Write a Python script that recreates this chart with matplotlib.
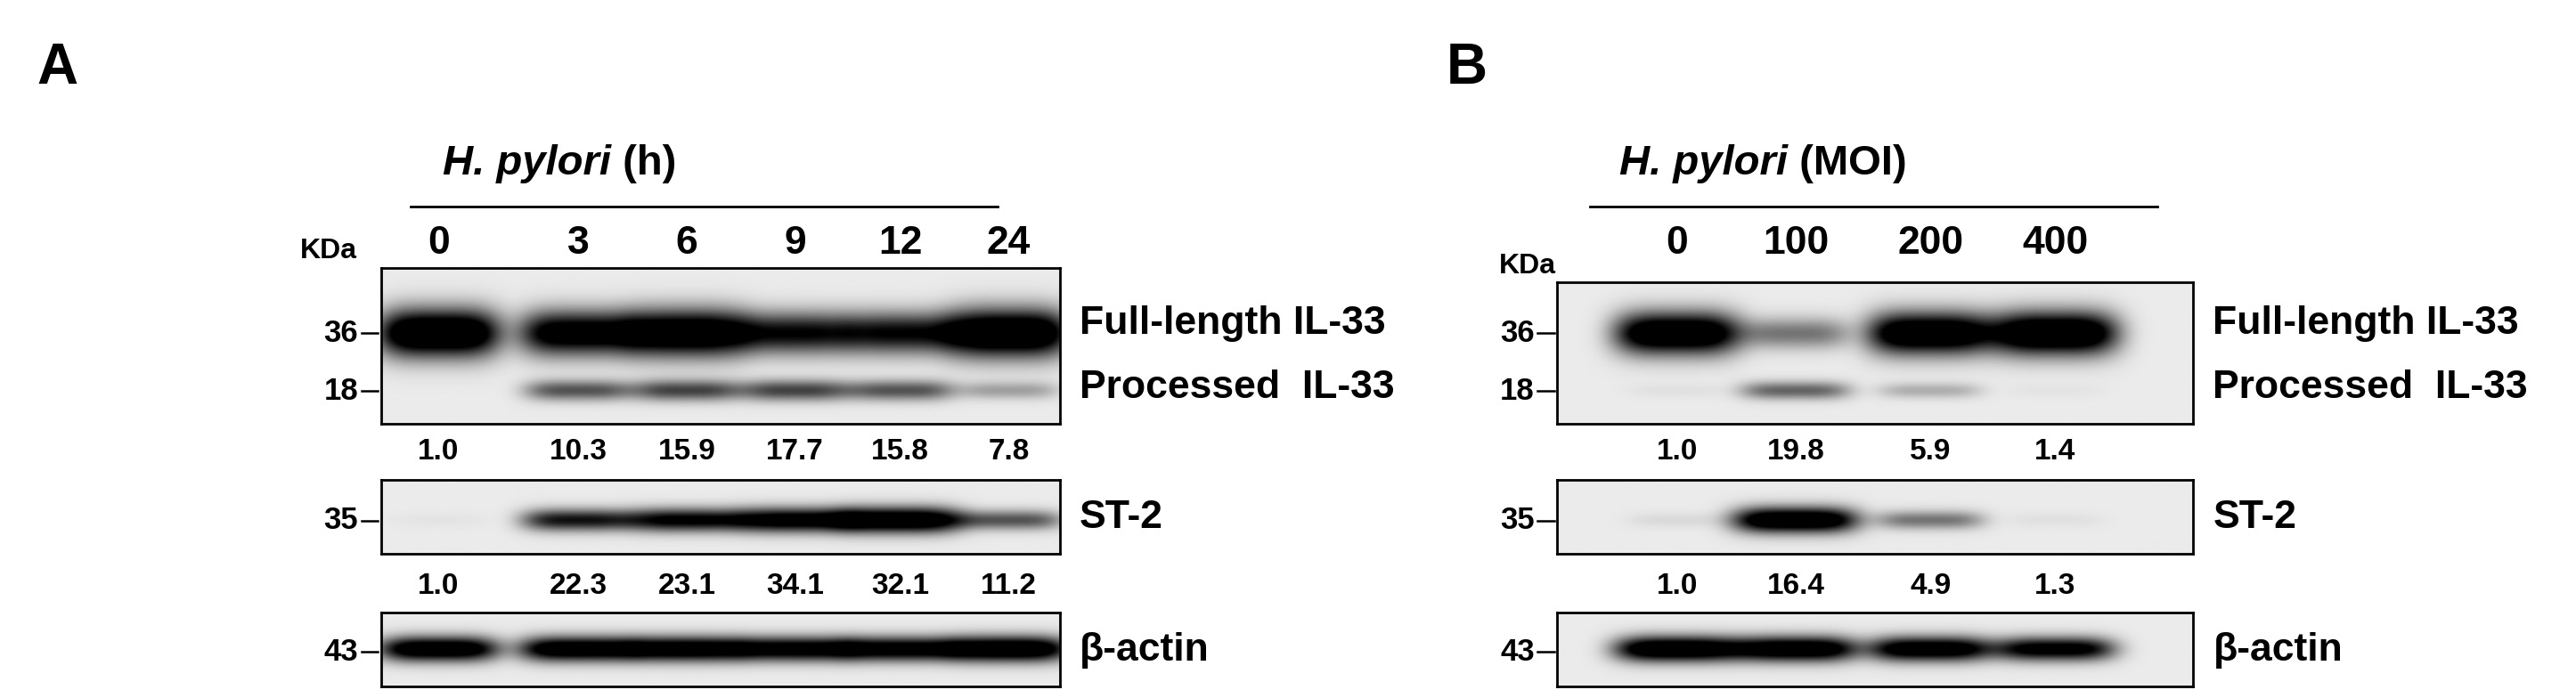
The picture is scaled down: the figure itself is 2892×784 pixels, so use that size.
import matplotlib
matplotlib.use("Agg")
import matplotlib.pyplot as plt
import numpy as np

plt.rcParams["font.family"] = ["Liberation Sans", "DejaVu Sans"]
plt.rcParams["font.weight"] = "bold"

W, H = 1568.0, 425.0  # layout units (reference scaled), figure is 2892x784 px

# ---- data ----
lanes_a = ["0", "3", "6", "9", "12", "24"]
il33_ratio_a = ["1.0", "10.3", "15.9", "17.7", "15.8", "7.8"]
st2_ratio_a = ["1.0", "22.3", "23.1", "34.1", "32.1", "11.2"]
full_a = [1.0, 0.85, 0.95, 0.7, 0.7, 1.0]
proc_a = [0.0, 0.45, 0.5, 0.5, 0.45, 0.22]
st2_a = [0.02, 0.65, 0.75, 0.85, 0.95, 0.45]
actin_a = [0.9, 0.9, 0.9, 0.85, 0.85, 0.95]

lanes_b = ["0", "100", "200", "400"]
il33_ratio_b = ["1.0", "19.8", "5.9", "1.4"]
st2_ratio_b = ["1.0", "16.4", "4.9", "1.3"]
full_b = [0.95, 0.35, 0.95, 1.0]
proc_b = [0.03, 0.4, 0.18, 0.02]
st2_b = [0.05, 0.95, 0.35, 0.03]
actin_b = [0.95, 0.92, 0.88, 0.8]

fig = plt.figure(figsize=(28.92, 7.84), dpi=100)
ov = fig.add_axes([0, 0, 1, 1])
ov.set_xlim(0, W)
ov.set_ylim(H, 0)
ov.axis("off")


def blot(x0, x1, y0, y1, centers, rows, width):
    """rows: list of (y fraction, amplitudes, half-thickness fraction)."""
    ax = fig.add_axes([x0 / W, 1 - y1 / H, (x1 - x0) / W, (y1 - y0) / H])
    nx, ny = 600, 120
    xs = np.linspace(x0, x1, nx)
    ys = np.linspace(0, 1, ny)
    X, Y = np.meshgrid(xs, ys)
    dens = np.zeros_like(X)
    for yf, amps, th in rows:
        for xc, a in zip(centers, amps):
            wx = width * (0.85 + 0.25 * a)
            dens += 1.4 * a * np.exp(-(np.abs(X - xc) / wx) ** 4 - ((Y - yf) / (th * (0.6 + 0.5 * a))) ** 2)
    img = 0.92 - 0.95 * np.clip(dens, 0, 1)
    ax.imshow(img, cmap="gray", vmin=0, vmax=1, aspect="auto", interpolation="bilinear")
    ax.set_xticks([])
    ax.set_yticks([])
    for s in ax.spines.values():
        s.set_linewidth(2)


def panel(letter, lx, title, tx, line, centers, labels, box, r1, r2, rows, width, kda_x):
    x0, x1 = box
    ov.text(lx, 42, letter, fontsize=46, ha="center", va="center")
    ov.text(tx, 100, title[0], fontsize=34, style="italic", ha="right", va="center")
    ov.text(tx, 100, " " + title[1], fontsize=34, ha="left", va="center")
    ov.plot(line, [126, 126], color="black", lw=2)
    for c, l in zip(centers, labels):
        ov.text(c, 148, l, fontsize=32, ha="center", va="center")
    full, proc, st2, actin = rows
    top = 163 if letter == "A" else 172
    blot(x0, x1, top, 258, centers, [((203 - top) / (258 - top), full, 0.14),
                                     ((238 - top) / (258 - top), proc, 0.08)], width)
    blot(x0, x1, 292, 337, centers, [(0.55, st2, 0.16)], width)
    blot(x0, x1, 373, 418, centers, [(0.5, actin, 0.16)], width)
    for c, a, b in zip(centers, r1, r2):
        ov.text(c, 275, a, fontsize=24, ha="center", va="center")
        ov.text(c, 357, b, fontsize=24, ha="center", va="center")
    ov.text(kda_x, top - 2, "KDa", fontsize=23, ha="center", va="bottom")
    for y, t in [(203, "36"), (238, "18"), (317, "35"), (397, "43")]:
        ov.text(x0 - 14, y, t, fontsize=25, ha="right", va="center")
        ov.plot([x0 - 12, x0 - 2], [y, y], color="black", lw=1.8)
    lab = x1 + 12
    ov.text(lab, 197, "Full-length IL-33", fontsize=32, ha="left", va="center")
    ov.text(lab, 236, "Processed  IL-33", fontsize=32, ha="left", va="center")
    ov.text(lab, 315, "ST-2", fontsize=32, ha="left", va="center")
    ov.text(lab, 396, "β-actin", fontsize=32, ha="left", va="center")


panel("A", 35, ("H. pylori", "(h)"), 372, [250, 607],
      [267, 352, 418, 484, 548, 614], lanes_a, (232, 645),
      il33_ratio_a, st2_ratio_a, (full_a, proc_a, st2_a, actin_a), 34, 200)
panel("B", 893, ("H. pylori", "(MOI)"), 1088, [968, 1313],
      [1021, 1093, 1175, 1251], lanes_b, (948, 1335),
      il33_ratio_b, st2_ratio_b, (full_b, proc_b, st2_b, actin_b), 35, 930)

fig.savefig("out.png", dpi=100)
